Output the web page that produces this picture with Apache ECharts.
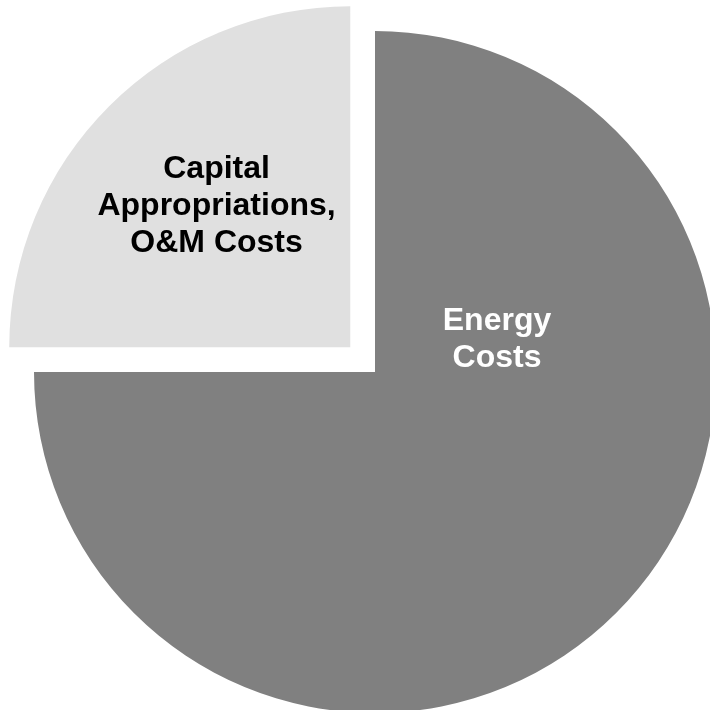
<!DOCTYPE html>
<html>
<head>
<meta charset="utf-8">
<script src="https://cdn.jsdelivr.net/npm/echarts@6/dist/echarts.min.js"></script>
<style>html,body{margin:0;padding:0;background:#fff;}#c{width:710px;height:710px;}</style>
</head>
<body>
<div id="c"></div>
<script>
var categories = ['Energy\nCosts', 'Capital\nAppropriations,\nO&M Costs'];
var values = [75, 25];
var colors = ['#808080', '#e0e0e0'];
var labelColors = ['#ffffff', '#000000'];

var chart = echarts.init(document.getElementById('c'), null, {renderer: 'canvas'});
chart.setOption({
  animation: false,
  series: [{
    type: 'pie',
    center: [375, 372],
    radius: 341,
    startAngle: 90,
    clockwise: true,
    selectedMode: 'single',
    selectedOffset: 35,
    avoidLabelOverlap: false,
    emphasis: {disabled: true},
    labelLine: {show: false},
    label: {
      show: true,
      position: 'inside',
      fontFamily: 'Liberation Sans, Arial, sans-serif',
      fontWeight: 'bold',
      fontSize: 32,
      lineHeight: 37,
      align: 'center',
      formatter: function (p) { return p.dataIndex === 1 ? p.name + '\n ' : p.name; }
    },
    labelLayout: function (p) {
      if (p.dataIndex === 0) {
        return {x: 497, y: 340, align: 'center', verticalAlign: 'middle'};
      }
      return {};
    },
    data: categories.map(function (c, i) {
      return {
        name: c,
        value: values[i],
        selected: i === 1,
        itemStyle: {color: colors[i], borderWidth: 0},
        label: i === 1 ? {color: labelColors[i], padding: [0, 22, 0, 0]} : {color: labelColors[i]}
      };
    })
  }]
});
</script>
</body>
</html>
